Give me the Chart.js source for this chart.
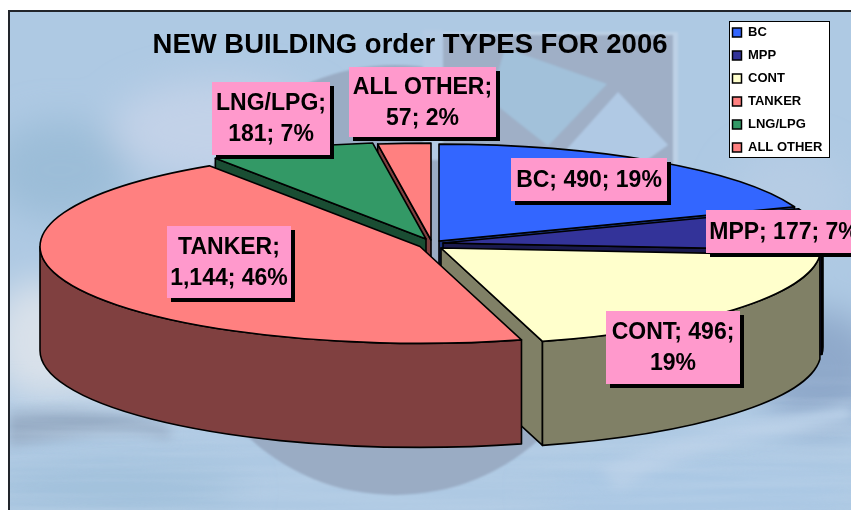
<!DOCTYPE html>
<html><head><meta charset="utf-8">
<script src="https://cdn.jsdelivr.net/npm/chart.js@4"></script>
<style>
html,body{margin:0;padding:0;background:#fff;overflow:hidden}
#wrap{position:relative;width:851px;height:510px;overflow:hidden}
#bg{position:absolute;left:8px;top:10px;width:843px;height:500px;box-sizing:border-box;border-left:2px solid #22252b;border-top:2px solid #22252b;overflow:hidden;background:#a9c5de}
#bg svg{position:absolute;left:-2px;top:-2px}
canvas{position:absolute;left:0;top:0}
</style></head><body>
<div id="wrap">
<div id="bg"><svg width="843" height="500" viewBox="8 10 843 500">
<defs><filter id="b1" x="-30%" y="-30%" width="160%" height="160%"><feGaussianBlur stdDeviation="18"/></filter>
<filter id="b2" x="-30%" y="-100%" width="160%" height="300%"><feGaussianBlur stdDeviation="6"/></filter>
<filter id="b3"><feGaussianBlur stdDeviation="1"/></filter>
<filter id="streak" x="0" y="0" width="100%" height="100%"><feTurbulence type="fractalNoise" baseFrequency="0.004 0.09" numOctaves="3" seed="7"/><feColorMatrix values="0 0 0 0 .58  0 0 0 0 .7  0 0 0 0 .84  1.6 0 0 0 -.55"/></filter>
<linearGradient id="fade" x1="0" y1="0" x2="0" y2="1"><stop offset="0" stop-color="#fff" stop-opacity="0"/><stop offset=".3" stop-color="#fff"/></linearGradient>
<mask id="lower"><rect x="8" y="360" width="843" height="150" fill="url(#fade)"/></mask></defs>
<rect x="8" y="10" width="843" height="500" fill="#aec9e3"/>
<g filter="url(#b1)">
<ellipse cx="60" cy="170" rx="70" ry="50" fill="#9cbdd8"/>
<ellipse cx="220" cy="130" rx="110" ry="50" fill="#c2d2e8"/>
<ellipse cx="40" cy="340" rx="50" ry="60" fill="#d9e1ea"/>
<ellipse cx="110" cy="385" rx="110" ry="14" fill="#d9e1ea"/>
<ellipse cx="790" cy="200" rx="60" ry="50" fill="#b6cce4"/>
<ellipse cx="820" cy="370" rx="60" ry="60" fill="#8fa9ca"/>
<ellipse cx="700" cy="490" rx="160" ry="30" fill="#aac8e4"/>
<ellipse cx="110" cy="490" rx="130" ry="30" fill="#a2c1dc"/>
</g>
<path d="M8 412 C 70 406,130 412,170 426 L170 440 C130 425,70 438,8 446Z" fill="#98adc6" filter="url(#b2)"/>
<path d="M600 470 C 680 430,760 420,851 405 L851 420 C 760 440,680 450,620 490Z" fill="#b8cfe7" filter="url(#b2)"/>
<rect x="8" y="360" width="843" height="150" filter="url(#streak)" mask="url(#lower)" opacity=".35"/>
<g filter="url(#b3)">
<circle cx="395" cy="280" r="215" fill="#9aacc4"/>
<rect x="440" y="32" width="238" height="160" fill="#bdd1e6"/>
<rect x="443" y="35" width="230" height="150" fill="#9fafc6"/>
<rect x="423" y="30" width="20" height="130" fill="#b4cbe4"/>
<polygon points="505,48 607,84 548,146 490,100" fill="#a2c1da"/>
<polygon points="618,92 668,145 640,165 566,150" fill="#b0c9e4"/>
</g>
</svg></div>
<canvas id="c" width="851" height="510"></canvas>
</div>
<script>
const categories = ['BC','MPP','CONT','TANKER','LNG/LPG','ALL OTHER'];
const seriesValues = [490,177,496,1144,181,57];
const percentLabels = [19,7,19,46,7,2];
const labelBreaks = [0,0,2,1,1,1];
const topColors = ['#3366ff','#333399','#ffffcc','#ff8080','#339966','#ff8080'];
const wallColors = ['#1a3380','#1a1a4d','#808066','#804040','#1a4d33','#804040'];

const PIE = {cx:431,cy:243,squash:0.255,depth:104,radius:380};
const explode = [[8,-2],[12,0],[10,5],[-11,3.5],[-5,-4],[0,-3]];
const paintOrder = [5,4,0,1,2,3];
const labelBoxes = [[511,158,156,43],[706,210,156,43],[606,311,134,73],[167,226,124,72],[212,82,118,73],[349,67,147,70]];
const LABEL_FONT = 'bold 23px "Liberation Sans", Arial, sans-serif';

const pie3d = {
  id:'pie3d',
  afterLayout(chart){
    const l = chart.legend, t = chart.titleBlock;
    if(l){ l.left=722.5; l.top=16; l.right=851; l.bottom=510; l.width=128.5; l.height=494; }
    if(t){ t.left=152; t.right=668; t.width=516; t.top=28; t.bottom=64; }
  },
  beforeDraw(chart){
    const c = chart.ctx; c.save();
    c.fillStyle='#fff'; c.strokeStyle='#000'; c.lineWidth=1;
    c.fillRect(729,21,101,137); c.strokeRect(729.5,21.5,100,136);
    c.restore();
  },
  beforeDatasetsDraw(chart){
    const c = chart.ctx, arcs = chart.getDatasetMeta(0).data, k=PIE.squash, d=PIE.depth;
    paintOrder.forEach(i=>{
      const a = arcs[i], R=a.outerRadius, s=a.startAngle, e=a.endAngle;
      const tx=PIE.cx+explode[i][0], ty=PIE.cy+explode[i][1];
      const rx=t=>tx+R*Math.cos(t), ry=t=>ty+R*k*Math.sin(t);
      c.save();
      c.lineJoin='round'; c.strokeStyle='#000'; c.lineWidth=1.6; c.fillStyle=wallColors[i];
      const face=t=>{ c.beginPath(); c.moveTo(tx,ty); c.lineTo(rx(t),ry(t)); c.lineTo(rx(t),ry(t)+d); c.lineTo(tx,ty+d); c.closePath(); c.fill(); c.stroke(); };
      if(Math.cos(s)<-1e-6) face(s);
      if(Math.cos(e)>1e-6) face(e);
      const from=Math.max(s,0), to=Math.min(e,Math.PI);
      if(to>from){
        c.beginPath(); c.ellipse(tx,ty,R,R*k,0,from,to); c.ellipse(tx,ty+d,R,R*k,0,to,from,true); c.closePath(); c.fill(); c.stroke();
      }
      c.save(); c.translate(tx,ty); c.scale(1,k); c.translate(-a.x,-a.y);
      a.draw(c);
      c.beginPath(); c.moveTo(a.x,a.y); c.arc(a.x,a.y,R,s,e); c.closePath();
      c.restore();
      c.stroke();
      c.restore();
    });
    return false;
  },
  afterDraw(chart){
    const c = chart.ctx;
    categories.forEach((name,i)=>{
      const [x,y,w,h]=labelBoxes[i];
      c.save();
      c.fillStyle='#000'; c.fillRect(x+4,y+4,w,h);
      c.fillStyle='#ff99cc'; c.fillRect(x,y,w,h);
      const parts=[name+';', seriesValues[i].toLocaleString('en-US')+';', percentLabels[i]+'%'];
      const b=labelBreaks[i];
      const lines=b? [parts.slice(0,b).join(' '),parts.slice(b).join(' ')] : [parts.join(' ')];
      c.font=LABEL_FONT; c.fillStyle='#000'; c.textAlign='center'; c.textBaseline='middle';
      const lh=31, y0=y+h/2-(lines.length-1)*lh/2+1;
      lines.forEach((t,j)=>c.fillText(t,x+w/2,y0+j*lh));
      c.restore();
    });
  }
};

new Chart(document.getElementById('c'),{
  type:'pie',
  plugins:[pie3d],
  data:{labels:categories,datasets:[{data:seriesValues,backgroundColor:topColors,borderWidth:0,radius:PIE.radius}]},
  options:{
    responsive:false,animation:false,
    layout:{padding:0},
    plugins:{
      tooltip:{enabled:false},
      title:{display:true,text:'NEW BUILDING order TYPES FOR 2006',color:'#000',padding:0,
        font:{family:'"Liberation Sans", Arial, sans-serif',size:27.5,weight:'bold',lineHeight:1.3}},
      legend:{display:true,position:'right',align:'start',
        labels:{color:'#000',boxWidth:9,boxHeight:9,padding:10,
          font:{family:'"Liberation Sans", Arial, sans-serif',size:13,weight:'bold'},
          generateLabels(chart){
            return Chart.overrides.pie.plugins.legend.labels.generateLabels(chart).map(it=>Object.assign(it,{strokeStyle:'#000',lineWidth:1.5}));
          }}}
    }
  }
});
</script>
</body></html>
